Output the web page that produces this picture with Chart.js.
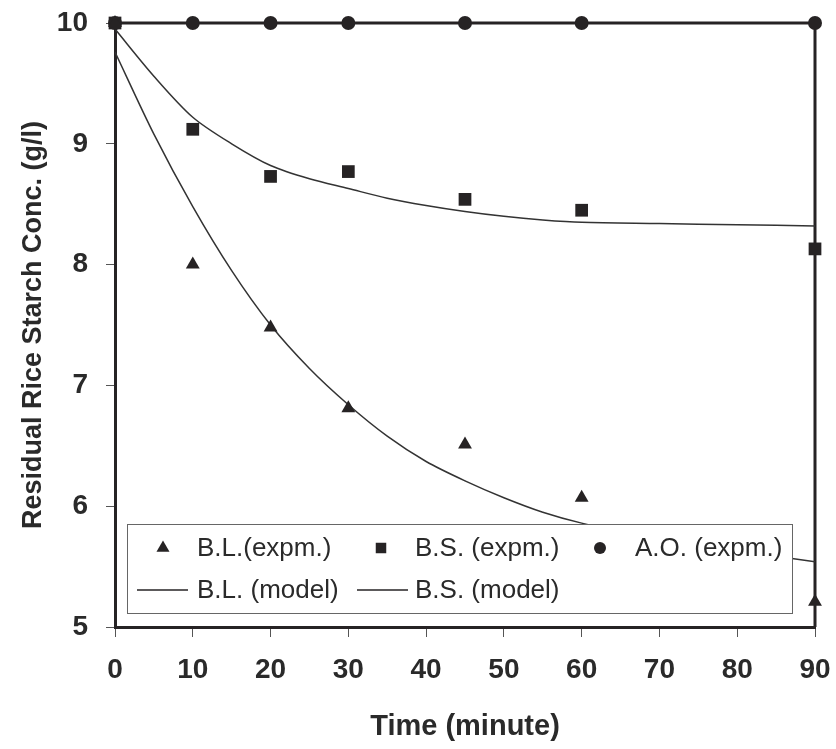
<!DOCTYPE html>
<html>
<head>
    <title>Residual Rice Starch</title>
    <script src="https://cdn.jsdelivr.net/npm/chart.js"></script>
    <style>
        body { margin: 0; background: #fff; }
        #chart-container { width: 836px; height: 749px; }
    </style>
</head>
<body>
    <div id="chart-container">
        <canvas id="starchChart"></canvas>
    </div>
    <script>
        // Experimental points (time in minutes, conc. in g/l)
        const expTimes = [0, 10, 20, 30, 45, 60, 90];
        const blExp = [10, 8.0, 7.48, 6.81, 6.51, 6.07, 5.21];
        const bsExp = [10, 9.12, 8.73, 8.77, 8.54, 8.45, 8.13];
        const aoExp = [10, 10, 10, 10, 10, 10, 10];

        // Model curves
        const modelTimes = [0, 5, 10, 15, 20, 25, 30, 35, 40, 45, 50, 55, 60, 70, 80, 90];
        const blModel = [9.76, 9.08, 8.48, 7.95, 7.50, 7.14, 6.84, 6.58, 6.37, 6.21, 6.07, 5.95, 5.86, 5.72, 5.63, 5.54];
        const bsModel = [9.95, 9.56, 9.22, 9.0, 8.82, 8.71, 8.63, 8.55, 8.49, 8.44, 8.40, 8.37, 8.35, 8.34, 8.33, 8.32];

        const xTicks = [0, 10, 20, 30, 40, 50, 60, 70, 80, 90];
        const yTicks = [5, 6, 7, 8, 9, 10];

        const ink = '#262324';
        const fontFamily = "'Liberation Sans', Arial, sans-serif";

        const toPoints = (xs, ys) => xs.map((x, i) => ({ x: x, y: ys[i] }));

        // no extra room for overflowing tick labels, the layout padding handles it
        function noLabelPadding(scale) {
            scale.paddingTop = 0;
            scale.paddingBottom = 0;
            scale.paddingLeft = 0;
            scale.paddingRight = 0;
        }

        // frame on top and right side
        const framePlugin = {
            id: 'frame',
            beforeDatasetsDraw(chart) {
                const { ctx, chartArea: a } = chart;
                ctx.save();
                ctx.strokeStyle = ink;
                ctx.lineWidth = 3;
                ctx.beginPath();
                ctx.moveTo(a.left, a.top);
                ctx.lineTo(a.right, a.top);
                ctx.lineTo(a.right, a.bottom);
                ctx.stroke();
                ctx.restore();
            }
        };

        function drawMarker(ctx, style, x, y, r) {
            ctx.beginPath();
            if (style === 'triangle') {
                ctx.moveTo(x, y - r);
                ctx.lineTo(x + r * 0.87, y + r * 0.5);
                ctx.lineTo(x - r * 0.87, y + r * 0.5);
                ctx.closePath();
            } else if (style === 'rect') {
                ctx.rect(x - r * 0.7, y - r * 0.7, r * 1.4, r * 1.4);
            } else {
                ctx.arc(x, y, r, 0, Math.PI * 2);
            }
            ctx.fill();
        }

        // legend box inside the plot area
        const legendItems = [
            { ds: 0, row: 0, mark: 163, text: 197 },
            { ds: 1, row: 0, mark: 381, text: 415 },
            { ds: 2, row: 0, mark: 600, text: 635 },
            { ds: 3, row: 1, mark: 137, text: 197 },
            { ds: 4, row: 1, mark: 357, text: 415 }
        ];

        const legendPlugin = {
            id: 'insideLegend',
            afterDatasetsDraw(chart) {
                const { ctx } = chart;
                const box = { left: 127, top: 524, right: 792, bottom: 613 };
                const rows = [548, 590];
                ctx.save();
                ctx.fillStyle = '#fff';
                ctx.fillRect(box.left, box.top, box.right - box.left, box.bottom - box.top);
                ctx.strokeStyle = '#666';
                ctx.lineWidth = 1;
                ctx.strokeRect(box.left + 0.5, box.top + 0.5, box.right - box.left, box.bottom - box.top);
                ctx.font = '26px ' + fontFamily;
                ctx.textBaseline = 'middle';
                legendItems.forEach(item => {
                    const ds = chart.data.datasets[item.ds];
                    const y = rows[item.row];
                    ctx.fillStyle = ink;
                    ctx.strokeStyle = ink;
                    if (ds.showLine === false) {
                        drawMarker(ctx, ds.pointStyle, item.mark, y, ds.pointStyle === 'circle' ? 6 : 7.5);
                    } else {
                        ctx.lineWidth = 1.5;
                        ctx.beginPath();
                        ctx.moveTo(item.mark, y);
                        ctx.lineTo(item.mark + 51, y);
                        ctx.stroke();
                    }
                    ctx.fillStyle = '#2a2a2a';
                    ctx.fillText(ds.label, item.text, y + 1);
                });
                ctx.restore();
            }
        };

        const ctx = document.getElementById('starchChart').getContext('2d');
        const chart = new Chart(ctx, {
            type: 'scatter',
            data: {
                datasets: [
                    {
                        label: 'B.L.(expm.)',
                        data: toPoints(expTimes, blExp),
                        showLine: false,
                        pointStyle: 'triangle',
                        pointRadius: 8,
                        backgroundColor: ink,
                        borderColor: ink,
                        borderWidth: 0,
                        clip: false,
                        order: 1
                    },
                    {
                        label: 'B.S. (expm.)',
                        data: toPoints(expTimes, bsExp),
                        showLine: false,
                        pointStyle: 'rect',
                        pointRadius: 9,
                        backgroundColor: ink,
                        borderColor: ink,
                        borderWidth: 0,
                        clip: false,
                        order: 1
                    },
                    {
                        label: 'A.O. (expm.)',
                        data: toPoints(expTimes, aoExp),
                        showLine: false,
                        pointStyle: 'circle',
                        pointRadius: 7,
                        backgroundColor: ink,
                        borderColor: ink,
                        borderWidth: 0,
                        clip: false,
                        order: 1
                    },
                    {
                        label: 'B.L. (model)',
                        data: toPoints(modelTimes, blModel),
                        showLine: true,
                        pointRadius: 0,
                        borderColor: '#333',
                        borderWidth: 1.5,
                        tension: 0.3,
                        order: 2
                    },
                    {
                        label: 'B.S. (model)',
                        data: toPoints(modelTimes, bsModel),
                        showLine: true,
                        pointRadius: 0,
                        borderColor: '#333',
                        borderWidth: 1.5,
                        tension: 0.3,
                        order: 2
                    }
                ]
            },
            options: {
                responsive: true,
                maintainAspectRatio: false,
                animation: false,
                layout: {
                    autoPadding: false,
                    padding: { top: 23, right: 21, left: 0, bottom: 0 }
                },
                plugins: {
                    legend: { display: false },
                    tooltip: { enabled: false }
                },
                scales: {
                    x: {
                        type: 'linear',
                        min: 0,
                        max: 90,
                        afterFit: scale => { scale.height = 122; noLabelPadding(scale); },
                        afterBuildTicks: scale => { scale.ticks = xTicks.map(v => ({ value: v })); },
                        border: { display: true, width: 3, color: ink },
                        grid: {
                            drawOnChartArea: false,
                            drawTicks: true,
                            tickLength: 10,
                            tickColor: '#555',
                            tickWidth: 1
                        },
                        ticks: {
                            padding: 16,
                            color: '#2a2a2a',
                            font: { family: fontFamily, size: 28, weight: 'bold' }
                        },
                        title: {
                            display: true,
                            text: 'Time (minute)',
                            color: '#2a2a2a',
                            padding: { top: 0, bottom: 5 },
                            font: { family: fontFamily, size: 29, weight: 'bold' }
                        }
                    },
                    y: {
                        type: 'linear',
                        min: 5,
                        max: 10,
                        afterFit: scale => { scale.width = 115; noLabelPadding(scale); },
                        afterBuildTicks: scale => { scale.ticks = yTicks.map(v => ({ value: v })); },
                        border: { display: true, width: 3, color: ink },
                        grid: {
                            drawOnChartArea: false,
                            drawTicks: true,
                            tickLength: 9,
                            tickColor: '#555',
                            tickWidth: 1
                        },
                        ticks: {
                            padding: 18,
                            color: '#2a2a2a',
                            font: { family: fontFamily, size: 28, weight: 'bold' }
                        },
                        title: {
                            display: true,
                            text: 'Residual Rice Starch Conc. (g/l)',
                            color: '#2a2a2a',
                            padding: { top: 17, bottom: 0 },
                            font: { family: fontFamily, size: 27, weight: 'bold' }
                        }
                    }
                }
            },
            plugins: [framePlugin, legendPlugin]
        });
    </script>
</body>
</html>
